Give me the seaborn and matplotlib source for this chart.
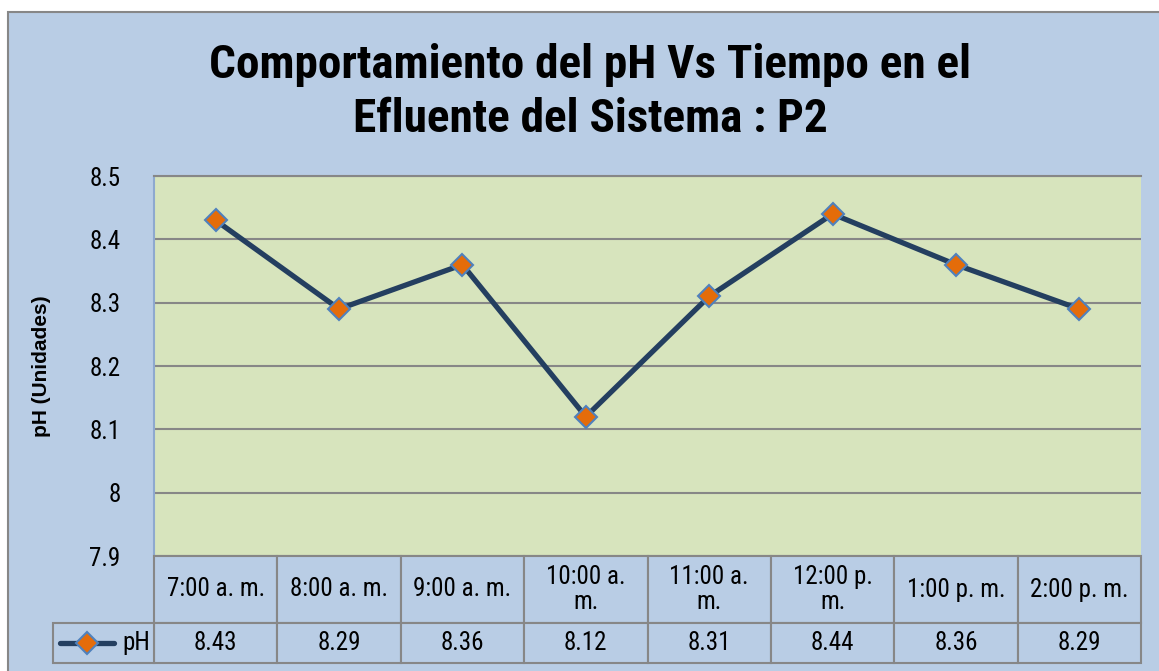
import matplotlib.pyplot as plt
import matplotlib.patches as mpatches
from matplotlib.lines import Line2D
import pandas as pd
import seaborn as sns

# data
hours = ["7:00 a. m.", "8:00 a. m.", "9:00 a. m.", "10:00 a. m.",
         "11:00 a. m.", "12:00 p. m.", "1:00 p. m.", "2:00 p. m."]
hour_labels = ["7:00 a. m.", "8:00 a. m.", "9:00 a. m.", "10:00 a.\nm.",
               "11:00 a.\nm.", "12:00 p.\nm.", "1:00 p. m.", "2:00 p. m."]
ph_values = [8.43, 8.29, 8.36, 8.12, 8.31, 8.44, 8.36, 8.29]
y_ticks = [7.9, 8.0, 8.1, 8.2, 8.3, 8.4, 8.5]
y_tick_labels = ["7.9", "8", "8.1", "8.2", "8.3", "8.4", "8.5"]

CHART_BG = "#B9CDE5"
PLOT_BG = "#D7E4BD"
GRID = "#878787"
LINE = "#243F60"
MARKER = "#E46C0A"
MARKER_EDGE = "#4F81BD"

sns.set_style("white")
plt.rcParams["font.family"] = ["Roboto Condensed", "Liberation Sans", "DejaVu Sans"]
plt.rcParams["text.color"] = "black"
plt.rcParams["axes.labelcolor"] = "black"
plt.rcParams["ytick.color"] = "black"

W, H = 1159, 671
fig = plt.figure(figsize=(W / 100, H / 100), dpi=100, facecolor="white")

# chart area (border on left/top only, runs off the image on the other sides)
fig.patches.append(mpatches.Rectangle((8 / W, -0.1), 1.2, 1 - 12 / H + 0.1,
                                      transform=fig.transFigure, facecolor=CHART_BG,
                                      edgecolor=GRID, linewidth=1.5, zorder=-5))

ax = fig.add_axes([154 / W, 1 - 556 / H, 987 / W, 380 / H])
ax.set_facecolor(PLOT_BG)

df = pd.DataFrame({"Hora": hours, "pH": ph_values})
sns.lineplot(data=df, x="Hora", y="pH", ax=ax, color=LINE, linewidth=3.8,
             marker="D", markersize=11, markerfacecolor=MARKER,
             markeredgecolor=MARKER_EDGE, markeredgewidth=1.5, zorder=3)

ax.set_xlim(-0.5, len(hours) - 0.5)
ax.set_ylim(7.9, 8.5)
ax.set_yticks(y_ticks)
ax.set_yticklabels(y_tick_labels, fontsize=18)
ax.tick_params(axis="y", length=0, pad=24)
ax.set_xticks([])
ax.set_xlabel("")
ax.set_ylabel("pH (Unidades)", fontsize=15, fontweight="bold",
              family="Liberation Sans", labelpad=28)
ax.yaxis.grid(True, color=GRID, linewidth=1.5)
ax.set_axisbelow(True)
for side in ["right", "bottom"]:
    ax.spines[side].set_visible(False)
ax.spines["top"].set_color(GRID)
ax.spines["top"].set_linewidth(1.5)
ax.spines["left"].set_color("#8EA9CF")
ax.spines["left"].set_linewidth(1.5)

# data table under the plot, drawn cell by cell in axes coordinates
n = len(hours)
col_w = 1 / n
head_h = 67 / 380
row_h = 40 / 380
label_w = (154 - 53) / 987


def cell(x0, y0, w, h):
    ax.add_patch(mpatches.Rectangle((x0, y0), w, h, transform=ax.transAxes,
                                    facecolor=CHART_BG, edgecolor=GRID,
                                    linewidth=1.5, clip_on=False, zorder=4))


for i, (lab, val) in enumerate(zip(hour_labels, ph_values)):
    x0 = i * col_w
    cell(x0, -head_h, col_w, head_h)
    cell(x0, -head_h - row_h, col_w, row_h)
    ax.text(x0 + col_w / 2, -head_h / 2, lab, transform=ax.transAxes,
            ha="center", va="center", fontsize=18, linespacing=1.05, zorder=5)
    ax.text(x0 + col_w / 2, -head_h - row_h / 2, f"{val:.2f}",
            transform=ax.transAxes, ha="center", va="center", fontsize=18, zorder=5)

# row label cell with the legend key
cell(-label_w, -head_h - row_h, label_w, row_h)
key_y = -head_h - row_h / 2
ax.text(-0.004, key_y, "pH", transform=ax.transAxes, ha="right", va="center",
        fontsize=18, zorder=5)
ax.add_line(Line2D([(60 - 154) / 987, (114 - 154) / 987], [key_y, key_y],
                   transform=ax.transAxes, color=LINE, linewidth=3.8,
                   solid_capstyle="round", clip_on=False, zorder=5))
ax.add_line(Line2D([(87 - 154) / 987], [key_y], transform=ax.transAxes,
                   marker="D", markersize=11, markerfacecolor=MARKER,
                   markeredgecolor=MARKER_EDGE, markeredgewidth=1.5,
                   clip_on=False, zorder=6))

fig.text(590 / W, 1 - 92 / H,
         "Comportamiento del pH Vs Tiempo en el\nEfluente del Sistema : P2",
         ha="center", va="center", fontsize=34, fontweight="bold",
         linespacing=1.3)

fig.savefig("out.png", dpi=100, facecolor="white")
